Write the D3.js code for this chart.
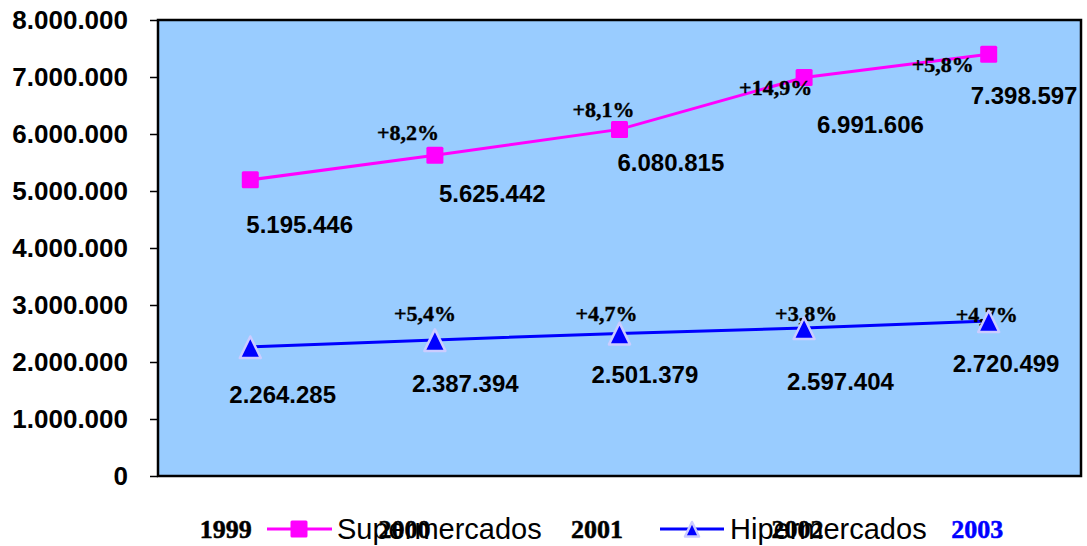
<!DOCTYPE html>
<html>
<head>
<meta charset="utf-8">
<script src="https://cdn.jsdelivr.net/npm/d3@7"></script>
<style>
  html, body { margin: 0; padding: 0; background: #ffffff; }
  svg { display: block; }
</style>
</head>
<body>
<svg id="chart" width="1087" height="546"></svg>
<script>
// ---- data ----
const years = ["1999", "2000", "2001", "2002", "2003"];
const supermercados = [5195446, 5625442, 6080815, 6991606, 7398597];
const hipermercados = [2264285, 2387394, 2501379, 2597404, 2720499];
const superGrowth = [null, "+8,2%", "+8,1%", "+14,9%", "+5,8%"];
const hiperGrowth = [null, "+5,4%", "+4,7%", "+3,8%", "+4,7%"];
const yTicks = [0, 1000000, 2000000, 3000000, 4000000, 5000000, 6000000, 7000000, 8000000];
const seriesNames = ["Supermercados", "Hipermercados"];

// ---- layout (label nudges in px, relative to each point) ----
const superValOff = [[-4, 53], [4, 47], [-2, 42], [13, 56], [-18, 50]];
const superPctOff = [null, [-58, -15], [-47, -12], [-65, 18], [-77, 18]];
const hiperValOff = [[-21, 56], [-23, 52], [-28, 50], [-17, 62], [-36, 51]];
const hiperPctOff = [null, [-41, -19], [-44, -12], [-29, -7], [-33, 1]];
const yearLabelOff = [-25, -31, -23, -7, -12];

const m = { left: 158, top: 20, right: 1081, bottom: 476 };

const svg = d3.select("#chart");
const locale = d3.formatLocale({ decimal: ",", thousands: ".", grouping: [3], currency: ["", ""] });
const fmt = locale.format(",d");

const x = d3.scalePoint().domain(years).range([m.left, m.right]).padding(0.5);
const y = d3.scaleLinear().domain([0, 8000000]).range([m.bottom, m.top]);

const serif = "'Liberation Serif', 'Times New Roman', serif";
const sans = "'Liberation Sans', Arial, sans-serif";

// triangle shape generator (relative geometry)
function triPath(hw, top, bottom) {
  return `M0,${top}L${hw},${bottom}L${-hw},${bottom}Z`;
}

// plot area
svg.append("rect")
  .attr("x", m.left).attr("y", m.top)
  .attr("width", m.right - m.left).attr("height", m.bottom - m.top)
  .attr("fill", "#99CCFF").attr("stroke", "#000").attr("stroke-width", 2.5);

// y axis
const yAxis = d3.axisLeft(y).tickValues(yTicks).tickFormat(fmt).tickSize(8).tickPadding(22);
const gy = svg.append("g").attr("transform", `translate(${m.left},0)`).call(yAxis);
gy.select(".domain").remove();
gy.selectAll(".tick line").attr("stroke", "#000").attr("stroke-width", 1.5);
gy.selectAll(".tick text")
  .attr("fill", "#000")
  .style("font-family", sans)
  .style("font-weight", "bold")
  .style("font-size", "26px");

// x labels (below chart)
const xAxis = d3.axisBottom(x).tickSize(0).tickPadding(0);
const gx = svg.append("g").attr("transform", `translate(0,538)`).call(xAxis);
gx.select(".domain").remove();
gx.selectAll(".tick text")
  .attr("dy", 0)
  .attr("dx", (d, i) => yearLabelOff[i])
  .attr("fill", (d, i) => i === years.length - 1 ? "#0000FF" : "#000")
  .attr("stroke", (d, i) => i === years.length - 1 ? "#0000FF" : "#000")
  .attr("stroke-width", 0.5)
  .style("font-family", serif)
  .style("font-weight", "bold")
  .style("font-size", "26px");

// lines
const line = d3.line().x((d, i) => x(years[i])).y(d => y(d));
svg.append("path").datum(supermercados).attr("d", line)
  .attr("fill", "none").attr("stroke", "#FF00FF").attr("stroke-width", 3);
svg.append("path").datum(hipermercados).attr("d", line)
  .attr("fill", "none").attr("stroke", "#0000FF").attr("stroke-width", 3);

const sq = 17;

// super markers
svg.append("g").selectAll("rect").data(supermercados).join("rect")
  .attr("x", (d, i) => x(years[i]) - sq / 2)
  .attr("y", d => y(d) - sq / 2)
  .attr("width", sq).attr("height", sq).attr("rx", 1.5)
  .attr("fill", "#FF00FF");

// hiper growth labels (under hiper markers)
svg.append("g").selectAll("text").data(hiperGrowth.map((g, i) => ({ g, i })).filter(d => d.g)).join("text")
  .attr("x", d => x(years[d.i]) + hiperPctOff[d.i][0])
  .attr("y", d => y(hipermercados[d.i]) + hiperPctOff[d.i][1])
  .text(d => d.g)
  .attr("fill", "#000").attr("stroke", "#000").attr("stroke-width", 0.4)
  .style("font-family", serif).style("font-weight", "bold").style("font-size", "22px");

// hiper markers
svg.append("g").selectAll("path").data(hipermercados).join("path")
  .attr("transform", (d, i) => `translate(${x(years[i])},${y(d)})`)
  .attr("d", triPath(10.5, -10.5, 11))
  .attr("fill", "#0000FF").attr("stroke", "#CCCCFF").attr("stroke-width", 2.5)
  .attr("stroke-linejoin", "round");

// super growth labels
svg.append("g").selectAll("text").data(superGrowth.map((g, i) => ({ g, i })).filter(d => d.g)).join("text")
  .attr("x", d => x(years[d.i]) + superPctOff[d.i][0])
  .attr("y", d => y(supermercados[d.i]) + superPctOff[d.i][1])
  .text(d => d.g)
  .attr("fill", "#000").attr("stroke", "#000").attr("stroke-width", 0.4)
  .style("font-family", serif).style("font-weight", "bold").style("font-size", "22px");

// value labels
svg.append("g").selectAll("text").data(supermercados).join("text")
  .attr("x", (d, i) => x(years[i]) + superValOff[i][0])
  .attr("y", (d, i) => y(d) + superValOff[i][1])
  .text(d => fmt(d))
  .attr("fill", "#000")
  .style("font-family", sans).style("font-weight", "bold").style("font-size", "24px");

svg.append("g").selectAll("text").data(hipermercados).join("text")
  .attr("x", (d, i) => x(years[i]) + hiperValOff[i][0])
  .attr("y", (d, i) => y(d) + hiperValOff[i][1])
  .text(d => fmt(d))
  .attr("fill", "#000")
  .style("font-family", sans).style("font-weight", "bold").style("font-size", "24px");

// legend
const legY = 529;
const leg = svg.append("g");
// Supermercados
leg.append("line").attr("x1", 267).attr("x2", 332).attr("y1", legY).attr("y2", legY)
  .attr("stroke", "#FF00FF").attr("stroke-width", 3);
leg.append("rect").attr("x", 299 - sq / 2).attr("y", legY - sq / 2).attr("width", sq).attr("height", sq)
  .attr("rx", 1.5).attr("fill", "#FF00FF");
leg.append("text").attr("x", 337).attr("y", 539).text(seriesNames[0])
  .attr("fill", "#000").style("font-family", sans).style("font-size", "29px");
// Hipermercados
leg.append("line").attr("x1", 660).attr("x2", 724).attr("y1", legY).attr("y2", legY)
  .attr("stroke", "#0000FF").attr("stroke-width", 3);
leg.append("path").attr("transform", `translate(692,${legY})`)
  .attr("d", triPath(7, -7, 7.5))
  .attr("fill", "#0000FF").attr("stroke", "#CCCCFF").attr("stroke-width", 2.5)
  .attr("stroke-linejoin", "round");
leg.append("text").attr("x", 730).attr("y", 539).text(seriesNames[1])
  .attr("fill", "#000").style("font-family", sans).style("font-size", "29px");
</script>
</body>
</html>
